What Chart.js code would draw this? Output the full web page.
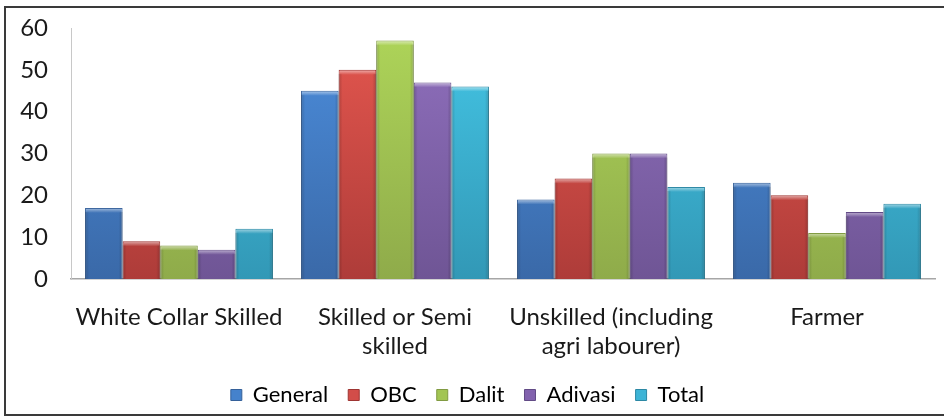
<!DOCTYPE html>
<html>
<head>
<meta charset="utf-8">
<script src="https://cdn.jsdelivr.net/npm/chart.js@4"></script>
<style>
html,body{margin:0;padding:0;background:#fff;}
#wrap{position:relative;width:944px;height:417px;}
</style>
</head>
<body>
<div id="wrap"><canvas id="c" width="944" height="417"></canvas></div>
<script>
const categories = [["White Collar Skilled"], ["Skilled or Semi", "skilled"], ["Unskilled (including", "agri labourer)"], ["Farmer"]];
const seriesNames = ["General", "OBC", "Dalit", "Adivasi", "Total"];
const general = [17, 45, 19, 23];
const obc = [9, 50, 24, 20];
const dalit = [8, 57, 30, 11];
const adivasi = [7, 47, 30, 16];
const total = [12, 46, 22, 18];
const yTicks = [0, 10, 20, 30, 40, 50, 60];

const palettes = [
  {top: '#4C8EDD', bot: '#3A69A8', edge: '#35609A', mid: '#4582CC'},
  {top: '#E5574F', bot: '#AE3C39', edge: '#9E3532', mid: '#D24D49'},
  {top: '#AED559', bot: '#8FAB4A', edge: '#819B42', mid: '#A2C553'},
  {top: '#9070BE', bot: '#6F5595', edge: '#624B86', mid: '#8262AE'},
  {top: '#44C6E6', bot: '#3298B6', edge: '#2C88A4', mid: '#3DB4D6'}
];
const values = [general, obc, dalit, adivasi, total];

function gradFor(i) {
  return function(ctx) {
    const chart = ctx.chart;
    const a = chart.chartArea;
    if (!a) return palettes[i].mid;
    const g = chart.ctx.createLinearGradient(0, a.top, 0, a.bottom);
    g.addColorStop(0, palettes[i].top);
    g.addColorStop(1, palettes[i].bot);
    return g;
  };
}

const bevel = {
  id: 'bevel',
  beforeDraw(chart) {
    const c = chart.ctx;
    c.save();
    c.strokeStyle = '#3a3a3a';
    c.lineWidth = 2;
    c.strokeRect(5, 7, 1000, 408);
    c.restore();
  },
  afterUpdate(chart) {
    const lg = chart.legend;
    if (lg) {
      lg.top -= 1; lg.bottom -= 1;
      lg.adjustHitBoxes();
    }
  },
  afterDatasetsDraw(chart) {
    const c = chart.ctx;
    chart.data.datasets.forEach((ds, i) => {
      const meta = chart.getDatasetMeta(i);
      meta.data.forEach(bar => {
        const l = bar.x - bar.width / 2, r = bar.x + bar.width / 2;
        const t = bar.y, b = bar.base;
        c.save();
        const g = c.createLinearGradient(0, t, 0, t + 5);
        g.addColorStop(0, 'rgba(255,255,255,0.55)');
        g.addColorStop(1, 'rgba(255,255,255,0)');
        c.fillStyle = g;
        c.fillRect(l + 1, t + 1, r - l - 2, 5);
        const gl = c.createLinearGradient(l, 0, l + 4, 0);
        gl.addColorStop(0, 'rgba(0,0,0,0.18)');
        gl.addColorStop(1, 'rgba(0,0,0,0)');
        c.fillStyle = gl;
        c.fillRect(l, t + 4, 4, b - t - 4);
        const gr = c.createLinearGradient(r, 0, r - 4, 0);
        gr.addColorStop(0, 'rgba(0,0,0,0.18)');
        gr.addColorStop(1, 'rgba(0,0,0,0)');
        c.fillStyle = gr;
        c.fillRect(r - 4, t + 4, 4, b - t - 4);
        c.restore();
      });
    });
  }
};

new Chart(document.getElementById('c'), {
  type: 'bar',
  data: {
    labels: categories,
    datasets: seriesNames.map((n, i) => ({
      label: n,
      data: values[i],
      backgroundColor: gradFor(i),
      borderColor: palettes[i].edge,
      borderWidth: 1,
      borderSkipped: 'bottom',
      categoryPercentage: 0.87,
      barPercentage: 1.0
    }))
  },
  options: {
    responsive: false,
    animation: false,
    devicePixelRatio: 1,
    layout: {padding: {top: 28, right: 9, bottom: 0, left: 0}},
    plugins: {
      tooltip: {enabled: false},
      legend: {
        position: 'bottom',
        labels: {
          boxWidth: 11, boxHeight: 11, padding: 20,
          color: '#1a1a1a',
          font: {family: 'Lato', size: 22},
          generateLabels(chart) {
            return chart.data.datasets.map((ds, i) => ({
              text: ds.label,
              fillStyle: palettes[i].mid,
              strokeStyle: palettes[i].edge,
              lineWidth: 1,
              datasetIndex: i,
              hidden: false
            }));
          }
        }
      }
    },
    scales: {
      x: {
        grid: {display: false, drawTicks: false},
        border: {color: '#A6A6A6', width: 1.5},
        ticks: {color: '#1a1a1a', padding: 24, maxRotation: 0, autoSkip: false,
                font: {family: 'Lato', size: 24, lineHeight: 1.2}},
        afterFit(s) { s.height = 86; }
      },
      y: {
        min: 0, max: 60,
        grid: {display: false, drawTicks: false},
        border: {color: '#C8C8C8', width: 1},
        afterBuildTicks(s) { s.ticks = yTicks.map(v => ({value: v})); },
        ticks: {color: '#1a1a1a', padding: 23, font: {family: 'Lato', size: 24}},
        afterFit(s) { s.width = 71; s.paddingTop = 0; s.paddingBottom = 0; }
      }
    }
  },
  plugins: [bevel]
});
</script>
</body>
</html>
